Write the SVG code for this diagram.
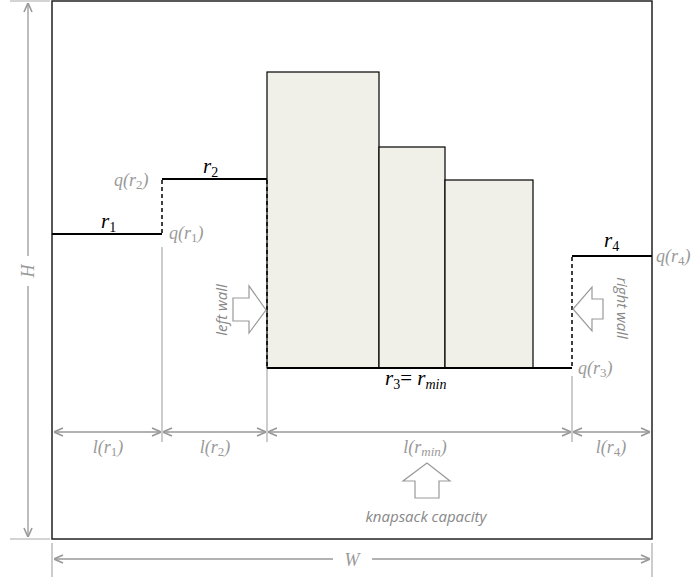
<svg xmlns="http://www.w3.org/2000/svg" width="694" height="577" viewBox="0 0 694 577">
<defs>
<marker id="ah" viewBox="0 0 10 10" refX="10" refY="5" markerWidth="10" markerHeight="10" markerUnits="userSpaceOnUse" orient="auto-start-reverse">
<path d="M1,1 L10,5 L1,9" fill="none" stroke="#999" stroke-width="1.6"/>
</marker>
<style>
.dim{stroke:#999;stroke-width:1.3;fill:none}
.ext{stroke:#aaa;stroke-width:1.2;fill:none}
.step{stroke:#000;stroke-width:2;fill:none}
.dash{stroke:#000;stroke-width:1.5;stroke-dasharray:4,3;fill:none}
.blk{fill:#f0f0e9;stroke:#000;stroke-width:1.2}
.gt{font-family:"Liberation Serif",serif;font-style:italic;font-size:18px;fill:#999}
.bt{font-family:"Liberation Serif",serif;font-style:italic;font-size:21px;fill:#000}
.st{font-family:"Open Sans","Noto Sans",sans-serif;font-style:italic;font-size:15px;fill:#888}
.warr{fill:#fff;stroke:#999;stroke-width:1.2}
</style>
</defs>
<g id="box"><rect x="52" y="1" width="600" height="538" fill="#fff" stroke="#222" stroke-width="1.5"/></g>
<g id="blocks">
<rect class="blk" x="267" y="72" width="112" height="296"/>
<rect class="blk" x="379" y="147" width="66" height="221"/>
<rect class="blk" x="445" y="180" width="88" height="188"/>
</g>
<g id="connectors">
<line class="ext" x1="10" y1="1" x2="50" y2="1"/>
<line class="ext" x1="10" y1="539" x2="50" y2="539"/>
<line class="dim" x1="28" y1="3" x2="28" y2="256" marker-start="url(#ah)"/>
<line class="dim" x1="28" y1="286" x2="28" y2="537" marker-end="url(#ah)"/>
<line class="ext" x1="52" y1="543" x2="52" y2="577"/>
<line class="ext" x1="652" y1="543" x2="652" y2="577"/>
<line class="dim" x1="54" y1="559" x2="333" y2="559" marker-start="url(#ah)"/>
<line class="dim" x1="372" y1="559" x2="650" y2="559" marker-end="url(#ah)"/>
<line class="ext" x1="162" y1="247" x2="162" y2="442"/>
<line class="ext" x1="267" y1="368" x2="267" y2="442"/>
<line class="ext" x1="572" y1="376" x2="572" y2="442"/>
<line class="dim" x1="54" y1="432" x2="161" y2="432" marker-start="url(#ah)" marker-end="url(#ah)"/>
<line class="dim" x1="163" y1="432" x2="266" y2="432" marker-start="url(#ah)" marker-end="url(#ah)"/>
<line class="dim" x1="268" y1="432" x2="571" y2="432" marker-start="url(#ah)" marker-end="url(#ah)"/>
<line class="dim" x1="573" y1="432" x2="650" y2="432" marker-start="url(#ah)" marker-end="url(#ah)"/>
</g>
<g id="steps">
<line class="step" x1="52" y1="234" x2="162" y2="234"/>
<line class="step" x1="162" y1="179" x2="267" y2="179"/>
<line class="step" x1="267" y1="368" x2="572" y2="368"/>
<line class="step" x1="572" y1="256" x2="652" y2="256"/>
<line class="dash" x1="162" y1="180" x2="162" y2="234"/>
<line class="dash" x1="267" y1="180" x2="267" y2="368"/>
<line class="dash" x1="572" y1="257" x2="572" y2="368"/>
</g>
<g id="walls">
<polygon class="warr" points="233,298 249,298 249,286 266,310 249,333 249,321 233,321"/>
<polygon class="warr" points="603,299 592,299 592,287 573,309 592,331 592,319 603,319"/>
<polygon class="warr" points="415,498 415,481 403,481 427,463 450,481 439,481 439,498"/>
<text class="st" transform="translate(227,310) rotate(-90)" text-anchor="middle">left wall</text>
<text class="st" transform="translate(617,308) rotate(90)" text-anchor="middle">right wall</text>
<text class="st" x="426" y="522" text-anchor="middle">knapsack capacity</text>
</g>
<g id="labels">
<text class="gt" x="28" y="277" text-anchor="middle" font-size="21" transform="rotate(-90 28 271)">H</text>
<text class="gt" x="352" y="566" text-anchor="middle" font-size="21">W</text>
<text class="bt" x="101" y="228">r<tspan font-size="14" font-style="normal" dy="4">1</tspan></text>
<text class="bt" x="203" y="173">r<tspan font-size="14" font-style="normal" dy="4">2</tspan></text>
<text class="bt" x="604" y="247">r<tspan font-size="14" font-style="normal" dy="4">4</tspan></text>
<text class="bt" x="385" y="385">r<tspan font-size="14" font-style="normal" dy="4">3</tspan><tspan dy="-4" font-style="normal">= </tspan>r<tspan font-size="14" dy="4">min</tspan></text>
<text class="gt" x="114" y="186">q(r<tspan font-size="13" font-style="normal" dy="3">2</tspan><tspan dy="-3">)</tspan></text>
<text class="gt" x="169" y="239">q(r<tspan font-size="13" font-style="normal" dy="3">1</tspan><tspan dy="-3">)</tspan></text>
<text class="gt" x="656" y="262">q(r<tspan font-size="13" font-style="normal" dy="3">4</tspan><tspan dy="-3">)</tspan></text>
<text class="gt" x="578" y="374">q(r<tspan font-size="13" font-style="normal" dy="3">3</tspan><tspan dy="-3">)</tspan></text>
<text class="gt" x="108" y="453" text-anchor="middle">l(r<tspan font-size="13" font-style="normal" dy="3">1</tspan><tspan dy="-3">)</tspan></text>
<text class="gt" x="215" y="453" text-anchor="middle">l(r<tspan font-size="13" font-style="normal" dy="3">2</tspan><tspan dy="-3">)</tspan></text>
<text class="gt" x="425" y="453" text-anchor="middle">l(r<tspan font-size="13" dy="3">min</tspan><tspan dy="-3">)</tspan></text>
<text class="gt" x="611" y="453" text-anchor="middle">l(r<tspan font-size="13" font-style="normal" dy="3">4</tspan><tspan dy="-3">)</tspan></text>
</g>
</svg>
